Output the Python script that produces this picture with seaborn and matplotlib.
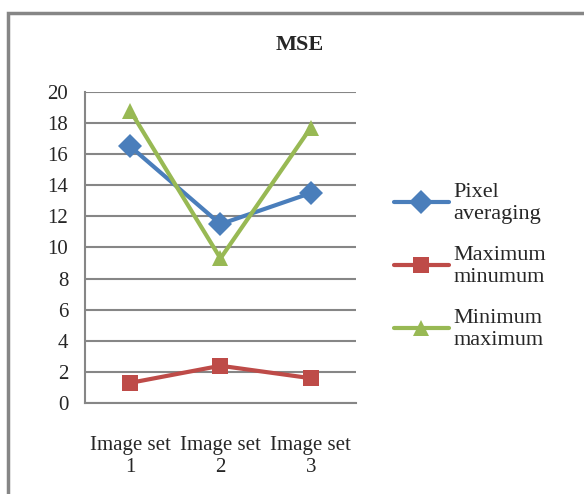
import numpy as np
import pandas as pd
import seaborn as sns
import matplotlib.pyplot as plt
from matplotlib.patches import Rectangle

# values
categories = ["Image set\n1", "Image set\n2", "Image set\n3"]
pixel_averaging = [16.5, 11.5, 13.5]
maximum_minumum = [1.3, 2.4, 1.6]
minimum_maximum = [18.8, 9.3, 17.7]

series_names = ["Pixel\naveraging", "Maximum\nminumum", "Minimum\nmaximum"]
colors = ["#4A7EBB", "#BE4B48", "#98B954"]
markers = ["D", "s", "^"]

df = pd.DataFrame({
    "category": categories * 3,
    "value": pixel_averaging + maximum_minumum + minimum_maximum,
    "series": np.repeat(series_names, len(categories)),
})

sns.set_style("white")
plt.rcParams["font.family"] = ["Liberation Serif", "DejaVu Serif"]

fig = plt.figure(figsize=(5.84, 4.94), dpi=100)
ax = fig.add_axes([0.1455, 0.184, 0.464, 0.630])

sns.lineplot(data=df, x="category", y="value", hue="series", style="series",
             markers=dict(zip(series_names, markers)), dashes=False,
             palette=dict(zip(series_names, colors)), linewidth=3,
             markersize=12, markeredgewidth=0, sort=False, ax=ax)

ax.set_xlim(-0.5, 2.5)
ax.set_ylim(0, 20)
ax.set_yticks(range(0, 21, 2))
ax.set_xticks([0, 1, 2])
ax.set_xticklabels(categories)
ax.set_xticks([-0.5, 0.5, 1.5, 2.5], minor=True)
ax.tick_params(axis="x", which="major", length=0, pad=24, labelsize=15)
ax.tick_params(axis="x", which="minor", length=6, width=1.5, color="#868686", direction="out")
ax.tick_params(axis="y", length=6, width=1.5, color="#868686", direction="out", labelsize=15, pad=6)
ax.yaxis.grid(True, color="#868686", linewidth=1.5)
ax.set_axisbelow(True)
for side in ["top", "right"]:
    ax.spines[side].set_visible(False)
for side in ["left", "bottom"]:
    ax.spines[side].set_color("#868686")
    ax.spines[side].set_linewidth(1.5)
ax.set_xlabel("")
ax.set_ylabel("")

fig.text(0.514, 0.908, "MSE", ha="center", va="center", fontsize=16, fontweight="bold")

leg = ax.legend(loc="center left", bbox_to_anchor=(1.065, 0.44), frameon=False,
                fontsize=16, handlelength=2.5, handletextpad=0.2, labelspacing=1.0)
for h in leg.legend_handles:
    h.set_markersize(12)

fig.add_artist(Rectangle((8 / 584, -0.1), 1.2, 0.1 + 1 - 13 / 494, transform=fig.transFigure,
                         fill=False, edgecolor="#868686", linewidth=2.5))

fig.savefig("out.png", dpi=100)
